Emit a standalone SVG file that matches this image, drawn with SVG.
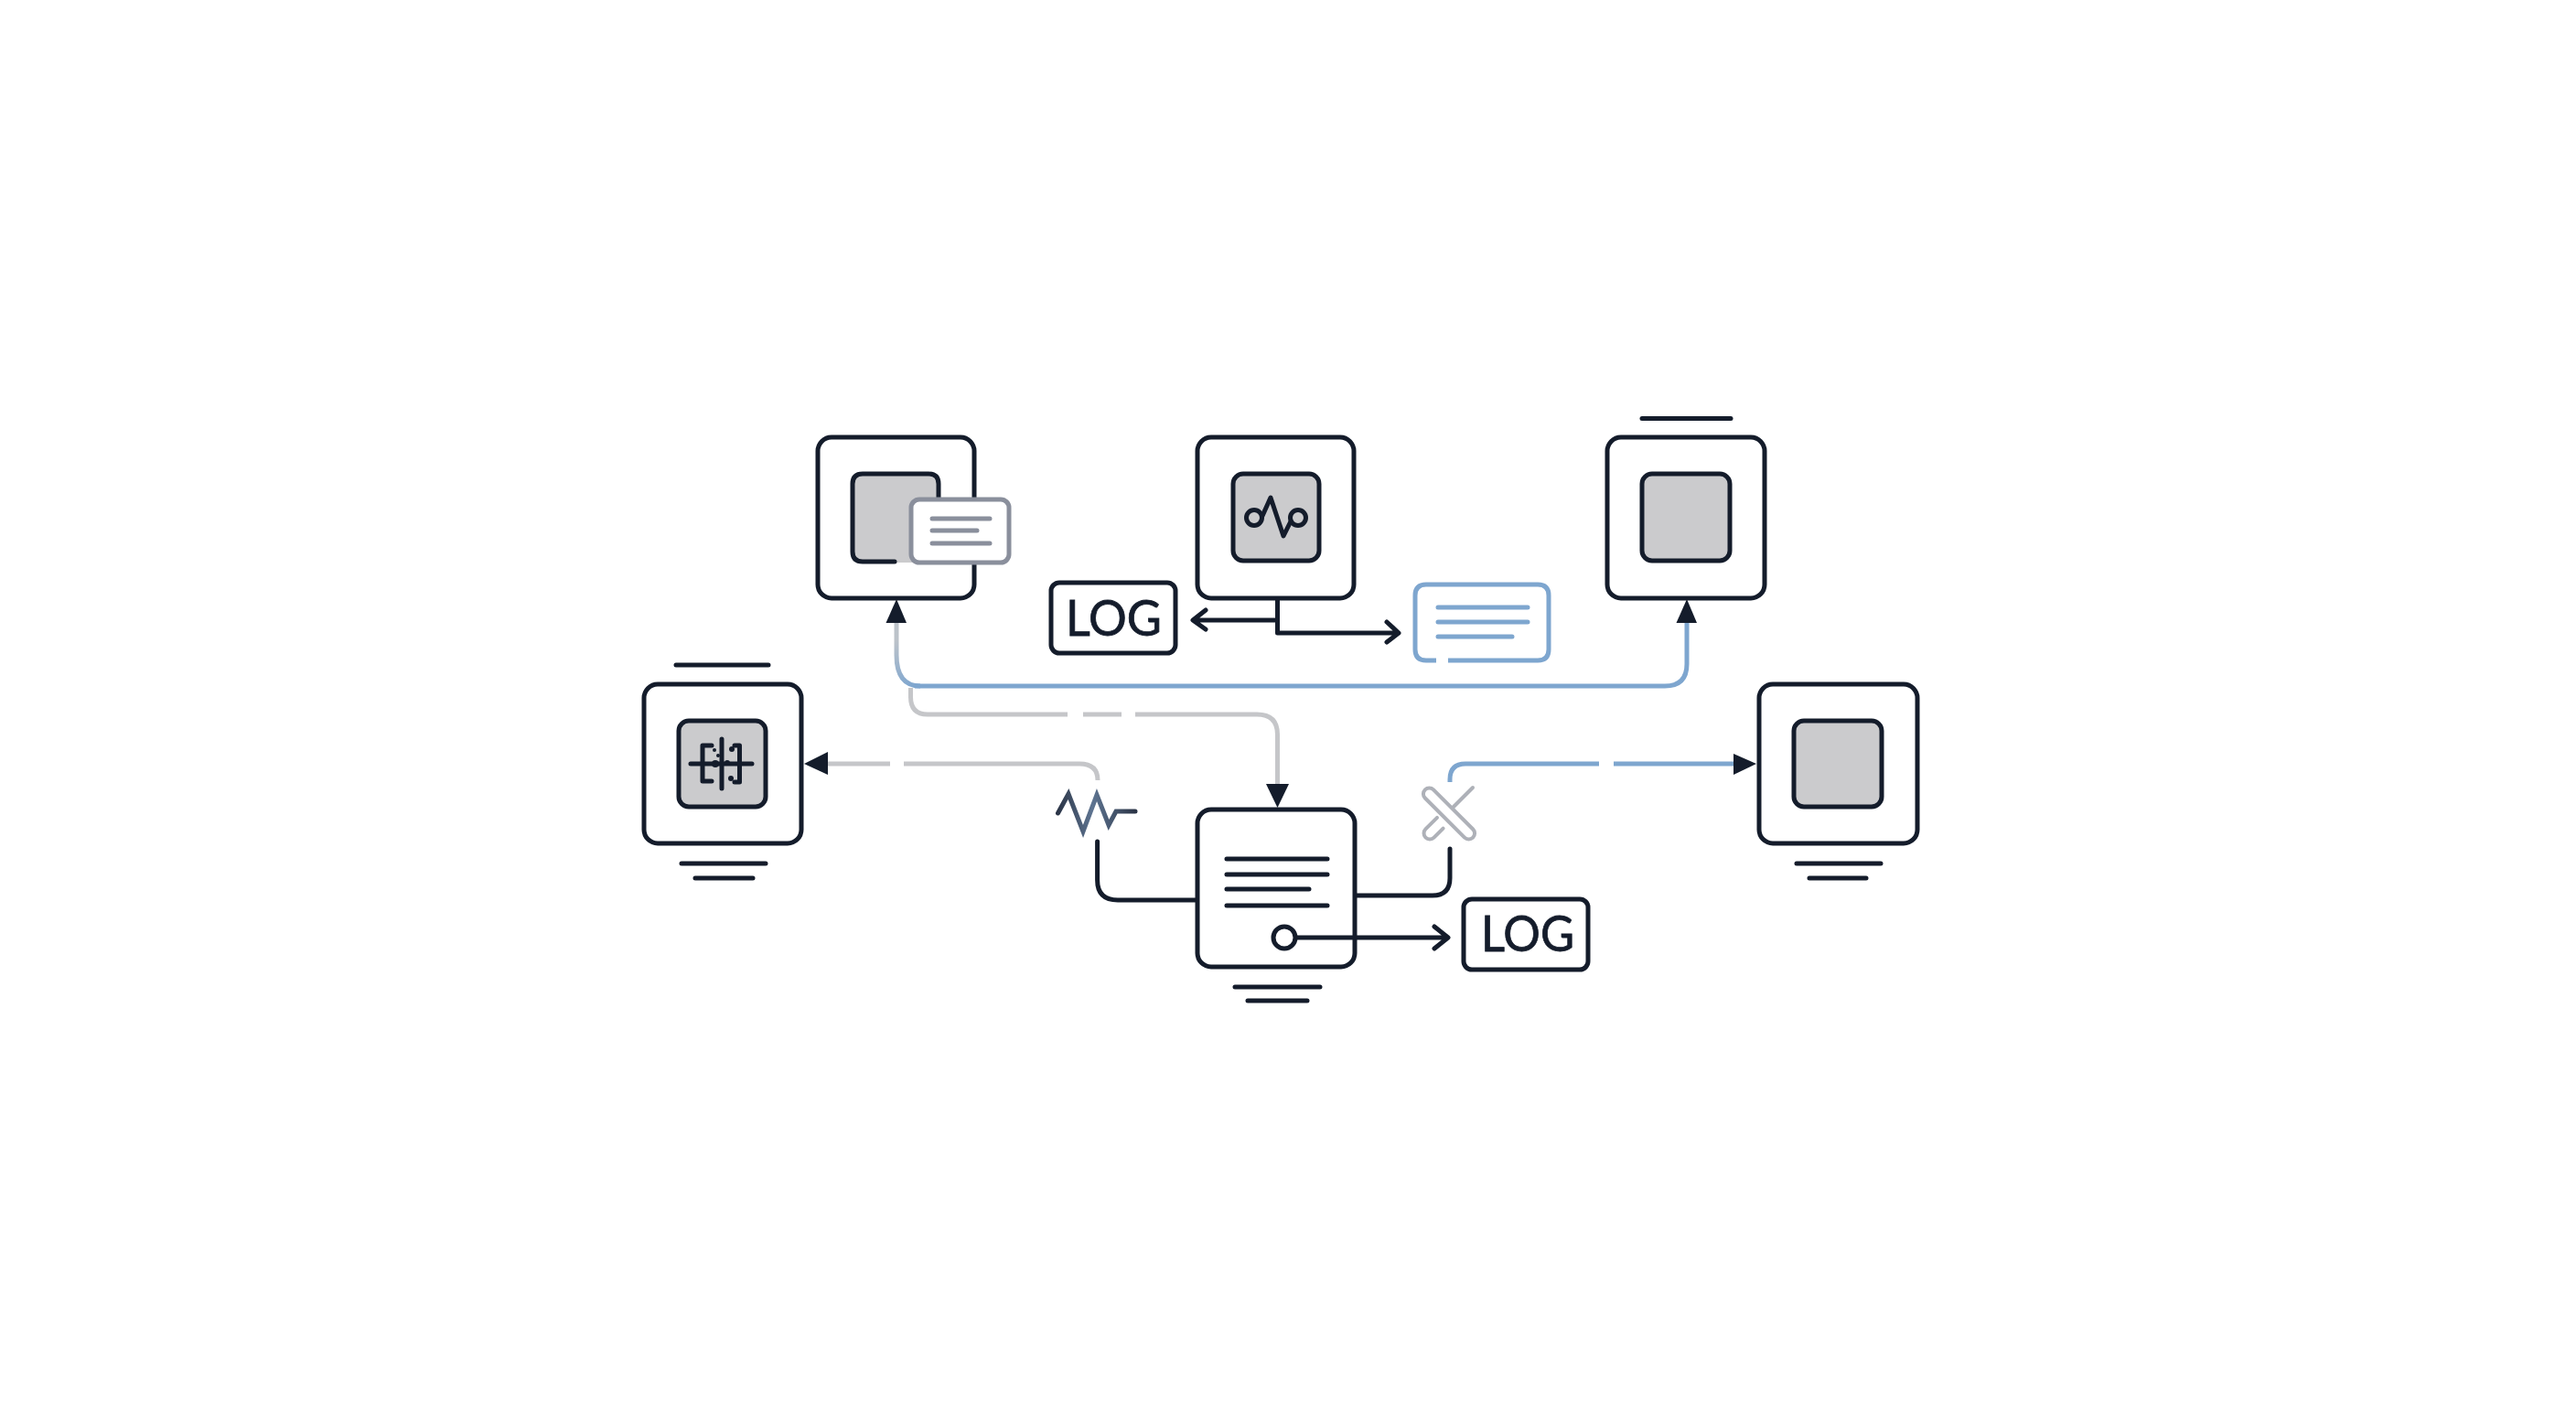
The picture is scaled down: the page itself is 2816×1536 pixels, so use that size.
<svg xmlns="http://www.w3.org/2000/svg" width="2816" height="1536" viewBox="0 0 2816 1536">
<style>
.box{fill:#fff;stroke:#141c2b;stroke-width:5}
.inner{fill:#cbcbcd;stroke:#141c2b;stroke-width:5}
.d{fill:none;stroke:#141c2b;stroke-width:5;stroke-linecap:round;stroke-linejoin:round}
.g{fill:none;stroke:#c5c6c9;stroke-width:5}
.b{fill:none;stroke:#7ea6cf;stroke-width:5}
.head{fill:#141c2b}
.log{font-family:"Lato","Liberation Sans",sans-serif;font-size:54px;fill:#141c2b;stroke:#141c2b;stroke-width:.8}
</style>
<defs>
<linearGradient id="gb" gradientUnits="userSpaceOnUse" x1="980" y1="700" x2="1000" y2="750"><stop offset="0" stop-color="#bcc2c9"/><stop offset="1" stop-color="#7ea6cf"/></linearGradient>
<linearGradient id="zz" gradientUnits="userSpaceOnUse" x1="1156" y1="0" x2="1241" y2="0"><stop offset="0" stop-color="#2b3547"/><stop offset="0.45" stop-color="#5e7491"/><stop offset="1" stop-color="#2b3547"/></linearGradient>
</defs>
<rect width="2816" height="1536" fill="#fff"/>
<g id="connectors">
<path d="M980 680V716Q980 750 1006 750" fill="none" stroke="url(#gb)" stroke-width="5"/>
<path class="b" d="M1000 750H1820Q1844 750 1844 726V680"/>
<path class="g" d="M995.500 752V762Q995.500 781 1014 781H1167M1184 781H1226M1241 781H1374Q1396.500 781 1396.500 803V860"/>
<path class="g" d="M900 835H973M988 835H1180Q1200 835 1200 853"/>
<path class="d" d="M1199.600 920V962Q1199.600 984 1222 984H1308"/>
<path class="b" d="M1585 855V852Q1585 835 1602 835H1748M1764 835H1898"/>
<path class="d" d="M1482 979H1566Q1585 979 1585 960V928"/>
<path class="d" d="M1396.500 655V692H1527M1516 680L1529 692L1516 702M1396.500 678H1305M1318 667L1304 678L1318 688"/>
<polygon class="head" points="980,655 968.500,681 991,681"/>
<polygon class="head" points="1844,655 1832.500,681 1855,681"/>
<polygon class="head" points="1396.500,883 1384,857 1409,857"/>
<polygon class="head" points="879,835 905,822 905,847"/>
<polygon class="head" points="1920,835 1895,824 1895,847"/>
<path d="M1156.500 889L1168 868L1184 909L1199 869L1212 902L1220 887H1241" fill="none" stroke="url(#zz)" stroke-width="5" stroke-linejoin="miter" stroke-linecap="round"/>
<g fill="none" stroke="#aeb1b8" stroke-width="4" stroke-linecap="round">
<rect x="1547" y="883" width="74" height="13" rx="6.500" transform="rotate(45 1584 889.500)"/>
<path d="M1588 883L1610 861"/>
<path d="M1571 893.800L1558.400 906.400A6.500 6.500 0 0 0 1567.600 915.600L1577.600 905.600"/>
</g>
</g>
<g id="node-a">
<rect class="box" x="894" y="478" width="171" height="176" rx="15"/>
<rect x="932" y="518" width="94" height="97" rx="10" fill="#cbcbcd"/>
<path d="M978 614H943Q932 614 932 603V529Q932 518 943 518H1015Q1026 518 1026 529V550" fill="none" stroke="#141c2b" stroke-width="5" stroke-linecap="round"/>
<g id="doc-a">
<rect x="996" y="546" width="107" height="69" rx="9" fill="#fff" stroke="#8a8f9c" stroke-width="5"/>
<path d="M1019 567H1082M1019 580H1068M1019 594H1082" fill="none" stroke="#8a8f9c" stroke-width="5" stroke-linecap="round"/>
</g>
</g>
<g id="node-b">
<rect class="box" x="1309" y="478" width="171" height="176" rx="15"/>
<rect class="inner" x="1348" y="518" width="94" height="95" rx="11"/>
<circle class="d" cx="1371" cy="566" r="8.500"/>
<circle class="d" cx="1419" cy="566" r="8.500"/>
<path class="d" d="M1380 564L1389 544L1403 586L1411 570"/>
</g>
<g id="node-c">
<rect class="box" x="1757" y="478" width="172" height="176" rx="15"/>
<rect class="inner" x="1795" y="518" width="96" height="95" rx="11"/>
<path class="d" d="M1795 457.500H1892"/>
</g>
<g id="node-l">
<rect class="box" x="704" y="748" width="172" height="174" rx="15"/>
<rect class="inner" x="742" y="788" width="95" height="94" rx="11"/>
<path class="d" d="M739 727H840M745 944H837M760 960H823"/>
<path class="d" d="M755 835H822M789 808V862M778 815H768V854H778M803 815H808.500V855H803"/>
<g fill="#141c2b"><circle cx="781" cy="820" r="2"/><circle cx="800" cy="819" r="3"/><circle cx="782" cy="835" r="4"/><circle cx="795" cy="834" r="3"/><circle cx="799" cy="851" r="3"/><circle cx="785" cy="826" r="2"/></g>
</g>
<g id="node-r">
<rect class="box" x="1923" y="748" width="173" height="174" rx="15"/>
<rect class="inner" x="1961" y="788" width="96" height="94" rx="11"/>
<path class="d" d="M1964 944H2056M1978 960H2040"/>
</g>
<g id="node-center">
<rect class="box" x="1309" y="885" width="172" height="172" rx="15"/>
<path class="d" d="M1341 939H1451M1341 956H1451M1341 972H1431M1341 990H1451M1350 1079H1443M1364 1094H1429"/>
<circle cx="1404" cy="1025" r="12" fill="none" stroke="#141c2b" stroke-width="5"/>
<path class="d" d="M1417 1025H1582M1568 1013L1583 1025L1568 1037"/>
</g>
<g id="log-top">
<rect class="box" x="1149" y="637" width="136" height="77" rx="9"/>
<text class="log" x="1165" y="695" textLength="105" lengthAdjust="spacingAndGlyphs">LOG</text>
</g>
<g id="log-bottom">
<rect class="box" x="1600" y="983" width="136" height="77" rx="9"/>
<text class="log" x="1619" y="1040" textLength="102" lengthAdjust="spacingAndGlyphs">LOG</text>
</g>
<g id="doc-blue">
<path d="M1570 722H1559Q1547 722 1547 710V651Q1547 639 1559 639H1681Q1693 639 1693 651V710Q1693 722 1681 722H1583" fill="none" stroke="#7ea6cf" stroke-width="5"/>
<path d="M1572 664H1670M1572 680H1670M1572 696H1653" fill="none" stroke="#7ea6cf" stroke-width="5" stroke-linecap="round"/>
</g>
</svg>
